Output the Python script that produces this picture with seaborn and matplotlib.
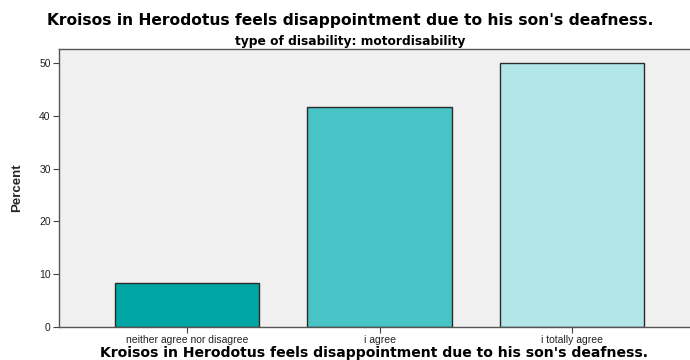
import matplotlib
matplotlib.use("Agg")
import matplotlib.pyplot as plt
import seaborn as sns
import pandas as pd

categories = ["neither agree nor disagree", "i agree", "i totally agree"]
percent = [8.33, 41.67, 50.0]
colors = ["#00A6A3", "#48C4C7", "#B3E6E8"]
yticks = [0, 10, 20, 30, 40, 50]

title = "Kroisos in Herodotus feels disappointment due to his son's deafness."
subtitle = "type of disability: motordisability"

sns.set_theme(style="white")
plt.rcParams["font.family"] = ["Liberation Sans", "DejaVu Sans"]

df = pd.DataFrame({"answer": categories, "Percent": percent})

fig = plt.figure(figsize=(6.9, 3.6), dpi=100)
ax = fig.add_axes([59 / 690, 33 / 360, 1 - 59 / 690, 278 / 360])
ax.set_facecolor("#F0F0F0")

sns.barplot(data=df, x="answer", y="Percent", hue="answer", palette=colors,
            order=categories, hue_order=categories, legend=False,
            saturation=1, width=0.75, edgecolor="#2b2b2b", linewidth=1.0,
            ax=ax)

ax.set_xlim(-0.665, 2.613)
ax.set_ylim(0, 52.65)
ax.set_yticks(yticks)
ax.set_yticklabels([str(t) for t in yticks], fontsize=7.5)
ax.set_xticks(range(len(categories)))
ax.set_xticklabels(categories, fontsize=7.5)
ax.tick_params(axis="both", direction="out", length=4, width=0.8,
               colors="#444444", pad=2, bottom=True, left=True)
for lab in ax.get_xticklabels() + ax.get_yticklabels():
    lab.set_color("#222222")

for side in ("left", "bottom", "top"):
    ax.spines[side].set_visible(True)
    ax.spines[side].set_color("#555555")
    ax.spines[side].set_linewidth(1.0)
ax.spines["right"].set_visible(False)

ax.set_xlabel("")
ax.set_ylabel("")

# axis titles and headings
fig.text(17 / 690, 1 - 188 / 360, "Percent", rotation=90, ha="center",
         va="center", fontsize=9.5, fontweight="bold",
         family=["Liberation Sans Narrow", "Liberation Sans"])
fig.text(374 / 690, 1 - 353 / 360, title, ha="center", va="center",
         fontsize=10.1, fontweight="bold", family=["DejaVu Sans"],
         color="black")
fig.text(350 / 690, 1 - 20 / 360, title, ha="center", va="center",
         fontsize=11.2, fontweight="bold", family=["DejaVu Sans"],
         color="black")
fig.text(350 / 690, 1 - 41 / 360, subtitle, ha="center", va="center",
         fontsize=8.8, fontweight="bold", family=["DejaVu Sans"],
         color="black")

fig.savefig("out.png", dpi=100)
